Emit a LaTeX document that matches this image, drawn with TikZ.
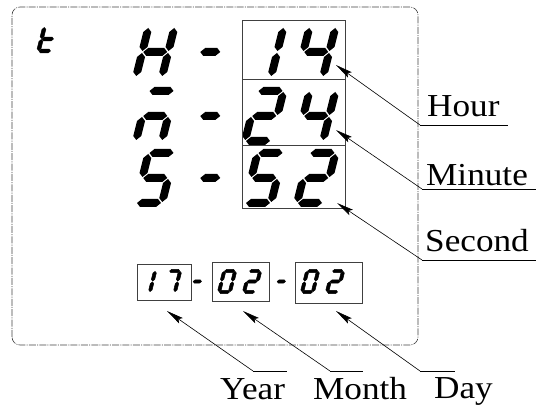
\documentclass[tikz,border=0pt]{standalone}
\usepackage{fontspec}
\usetikzlibrary{arrows.meta,positioning}
\newfontfamily\lblfont{Liberation Serif}[FakeStretch=1.1]

% seven segment pieces (digit origin at bottom left, width 26, height 50)
\newcommand{\segA}{\fill (1,50) -- (5,54) -- (21,54) -- (25,50) -- (21,46) -- (5,46) -- cycle;}
\newcommand{\segG}{\fill (1,25) -- (5,29) -- (21,29) -- (25,25) -- (21,21) -- (5,21) -- cycle;}
\newcommand{\segD}{\fill (1,0) -- (5,4) -- (21,4) -- (25,0) -- (21,-4) -- (5,-4) -- cycle;}
\newcommand{\segF}{\fill (0,26) -- (4,30) -- (4,45) -- (0,49) -- (-4,45) -- (-4,30) -- cycle;}
\newcommand{\segE}{\fill (0,1) -- (4,5) -- (4,20) -- (0,24) -- (-4,20) -- (-4,5) -- cycle;}
\newcommand{\segB}{\fill (26,26) -- (30,30) -- (30,45) -- (26,49) -- (22,45) -- (22,30) -- cycle;}
\newcommand{\segC}{\fill (26,1) -- (30,5) -- (30,20) -- (26,24) -- (22,20) -- (22,5) -- cycle;}
\newcommand{\segM}{\fill (0,25) -- (4,29) -- (16,29) -- (20,25) -- (16,21) -- (4,21) -- cycle;}
\newcommand{\segdigit}[3][]{%
  \begin{scope}[shift={#2}, #1, xslant=0.25]
    \foreach \s in {#3}{\csname seg\s\endcsname}
  \end{scope}}

\begin{document}
\begin{tikzpicture}[
  x=1pt, y=1pt,
  frame/.style={draw=black!75, line width=0.6pt, rounded corners=8pt,
    dash pattern=on 7pt off 1.2pt on 1pt off 1.2pt},
  digbox/.style={rectangle, draw=black!75, line width=0.9pt, inner sep=0pt},
  smalldig/.style={scale=#1, every path/.style={draw, line width=0.5pt, line join=round}},
  lbl/.style={font=\lblfont\fontsize{32}{36}\selectfont, inner sep=0pt, anchor=base west},
  uline/.style={line width=0.7pt},
  leader/.style={-{Stealth[length=17pt,width=6.5pt,inset=3pt]}, line width=0.6pt}
]
  \useasboundingbox (0,0) rectangle (536,410);
  \draw[frame] (12,65) rectangle (418,403);

  % small t
  \segdigit[smalldig=0.48]{(38.5,359)}{F,E,D,G}

  % H - 14 / m - 24 / S - 52
  \segdigit{(136,333)}{B,C,E,F,G}
  \segdigit{(194,333)}{M}
  \segdigit{(245,333)}{B,C}
  \segdigit{(297,333)}{F,G,B,C}
  \segdigit{(136,269)}{A,E,G,C}
  \segdigit{(194,269)}{M}
  \segdigit{(245,269)}{A,B,G,E,D}
  \segdigit{(297,269)}{F,G,B,C}
  \segdigit{(136,207)}{A,F,G,C,D}
  \segdigit{(194,207)}{M}
  \segdigit{(245,207)}{A,F,G,C,D}
  \segdigit{(297,207)}{A,B,G,E,D}

  \node[digbox, minimum width=103pt, minimum height=59pt] (hrbox) at (293.5,360.5) {};
  \node[digbox, minimum width=103pt, minimum height=66pt] (mnbox) at (293.5,298) {};
  \node[digbox, minimum width=103pt, minimum height=63pt] (scbox) at (293.5,233.5) {};

  % 17 - 02 - 02
  \segdigit[smalldig=0.42]{(139,118)}{B,C}
  \segdigit[smalldig=0.42]{(164,118)}{A,B,C}
  \segdigit[smalldig=0.42]{(190.5,118)}{M}
  \segdigit[smalldig=0.42]{(219,118)}{A,B,C,D,E,F}
  \segdigit[smalldig=0.42]{(244,118)}{A,B,G,E,D}
  \segdigit[smalldig=0.42]{(274.5,118)}{M}
  \segdigit[smalldig=0.42]{(302,118)}{A,B,C,D,E,F}
  \segdigit[smalldig=0.42]{(327,118)}{A,B,G,E,D}

  \node[digbox, minimum width=54pt, minimum height=36pt] (yrbox) at (164,128) {};
  \node[digbox, minimum width=57pt, minimum height=39pt] (mobox) at (240.5,128.5) {};
  \node[digbox, minimum width=67pt, minimum height=41pt] (dybox) at (328.5,127.5) {};

  % labels
  \node[lbl] (hour) at (427,293) {Hour};
  \node[lbl] (minute) at (426,224) {Minute};
  \node[lbl] (second) at (425,158) {Second};
  \node[lbl] (year) at (220,10) {Year};
  \node[lbl] (month) at (313,10) {Month};
  \node[lbl] (day) at (434,11) {Day};

  \coordinate (hrln) at (420,285);
  \coordinate (mnln) at (422,221);
  \coordinate (scln) at (422,150);
  \coordinate (yrln) at (253,39);
  \coordinate (moln) at (330,39);
  \coordinate (dyln) at (420,39);
  \coordinate (hrtip) at (336,345);
  \coordinate (mntip) at (336,280);
  \coordinate (sctip) at (337,207);
  \coordinate (yrtip) at (167,99);
  \coordinate (motip) at (243,99);
  \coordinate (dytip) at (336,99);

  \draw[uline] (hrln) -- ++(88,0);
  \draw[uline] (mnln) -- ++(114,0);
  \draw[uline] (scln) -- ++(114,0);
  \draw[uline] (yrln) -- ++(34,0);
  \draw[uline] (moln) -- ++(33,0);
  \draw[uline] (dyln) -- ++(35,0);

  \draw[leader] (hrln) -- (hrtip);
  \draw[leader] (mnln) -- (mntip);
  \draw[leader] (scln) -- (sctip);
  \draw[leader] (yrln) -- (yrtip);
  \draw[leader] (moln) -- (motip);
  \draw[leader] (dyln) -- (dytip);
\end{tikzpicture}
\end{document}
